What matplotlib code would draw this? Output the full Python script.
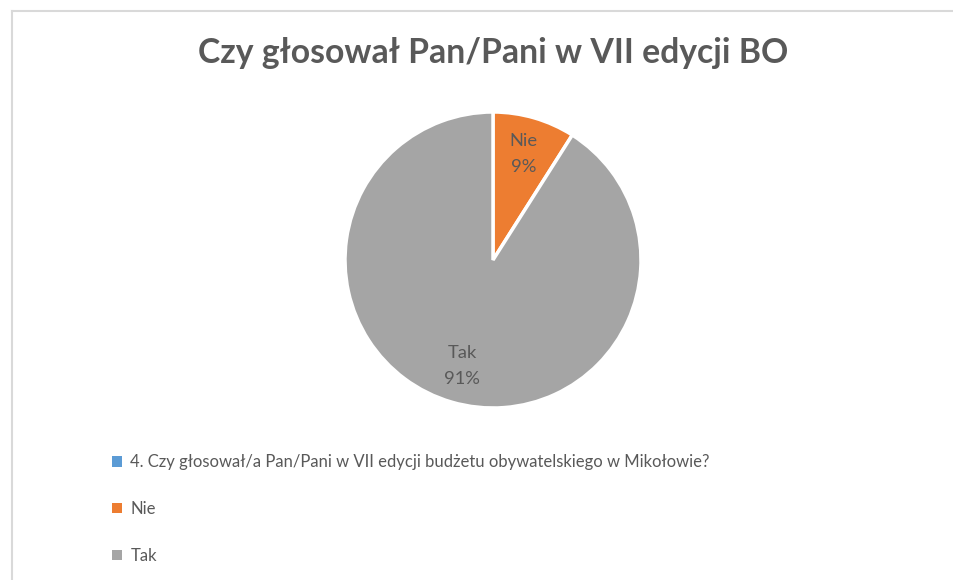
import matplotlib
matplotlib.use("Agg")
import matplotlib.pyplot as plt
import numpy as np
from matplotlib.patches import Rectangle
from matplotlib.lines import Line2D

title = "Czy głosował Pan/Pani w VII edycji BO"
categories = ["4. Czy głosował/a Pan/Pani w VII edycji budżetu obywatelskiego w Mikołowie?", "Nie", "Tak"]
short_labels = ["", "Nie", "Tak"]
values = [0, 9, 91]
colors = ["#5B9BD5", "#ED7D31", "#A5A5A5"]

plt.rcParams['font.family'] = ['Lato', 'DejaVu Sans']
txt_color = "#595959"

W, H = 954, 580
fig = plt.figure(figsize=(W / 100, H / 100), dpi=100)
fig.patch.set_facecolor("white")

# chart border (light gray)
fig.add_artist(Line2D([12.5 / W, 1.0], [1 - 10.5 / H, 1 - 10.5 / H], color="#D9D9D9", lw=1.5))
fig.add_artist(Line2D([12.5 / W, 12.5 / W], [0, 1 - 10.5 / H], color="#D9D9D9", lw=1.5))

cx, cy, r = 493, 260, 148
ax = fig.add_axes([(cx - r) / W, 1 - (cy + r) / H, 2 * r / W, 2 * r / H])
wedges, _ = ax.pie(values, colors=colors, startangle=90, counterclock=False,
                   wedgeprops=dict(edgecolor="white", linewidth=2.5))
ax.set_xlim(-1, 1)
ax.set_ylim(-1, 1)
ax.set_aspect("equal")
ax.axis("off")

total = sum(values)
for w, lab, v in zip(wedges, short_labels, values):
    if v == 0:
        continue
    ang = np.deg2rad((w.theta1 + w.theta2) / 2)
    d = 0.745
    ax.text(d * np.cos(ang), d * np.sin(ang), f"{lab}\n{round(100 * v / total)}%",
            ha="center", va="center", fontsize=13.2, color=txt_color, linespacing=1.75)

fig.text(493 / W, 1 - 53 / H, title, ha="center", va="center", fontsize=24.3,
         fontweight="bold", color=txt_color)

handles = [Rectangle((0, 0), 1, 1, facecolor=c, edgecolor="none") for c in colors]
leg = fig.legend(handles, categories, loc="upper left", bbox_to_anchor=(104 / W, 1 - 446 / H),
                 frameon=False, fontsize=12.0, labelcolor=txt_color, handlelength=0.58,
                 handleheight=0.58, handletextpad=0.5, labelspacing=1.85, borderpad=0)

fig.savefig("out.png", dpi=100, facecolor="white")
